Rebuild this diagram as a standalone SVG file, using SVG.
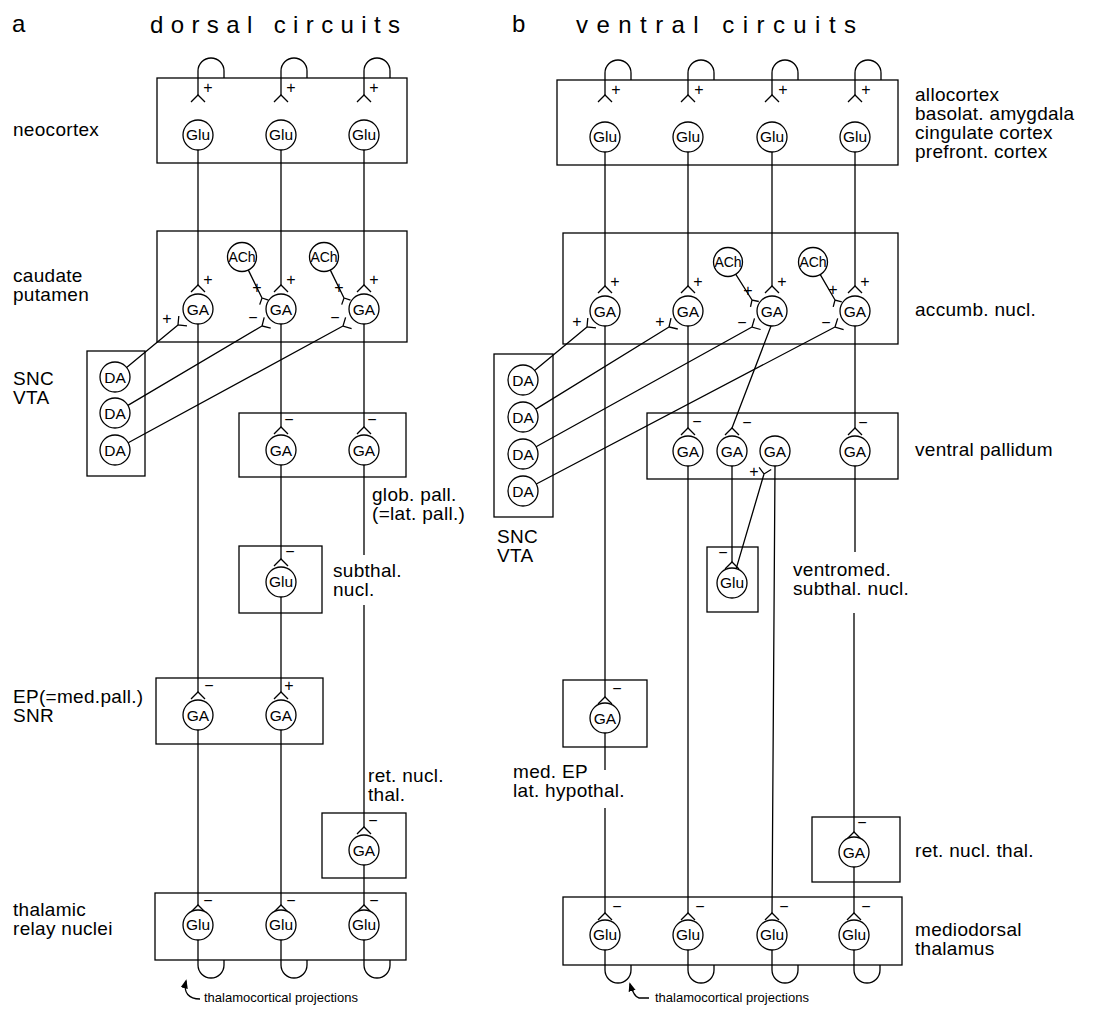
<svg xmlns="http://www.w3.org/2000/svg" width="1101" height="1014" viewBox="0 0 1101 1014">
<defs>
<style>
.box{fill:none;stroke:#000;stroke-width:1.3}
.ln{fill:none;stroke:#000;stroke-width:1.3}
.cell{fill:#fff;stroke:#000;stroke-width:1.3}
text{font-family:"Liberation Sans",Arial,Helvetica,sans-serif;fill:#000}
.ct{font-size:15.5px;text-anchor:middle}
.ach{font-size:14px;text-anchor:middle}
.lb{font-size:19px;letter-spacing:0.3px}
.sg{font-size:16px;text-anchor:middle}
.ttl{font-size:24px}
.sm{font-size:13px}
</style>
<path id="rv" d="M-7,7 L0,0 L7,7" fill="none" stroke="#000" stroke-width="1.3"/>
<marker id="ah" viewBox="0 0 10 10" refX="8" refY="5" markerWidth="7" markerHeight="7" orient="auto"><path d="M0,1 L10,5 L0,9 Z" fill="#000"/></marker>
</defs>
<rect width="1101" height="1014" fill="#fff"/>

<text class="ttl" x="12" y="32">a</text>
<text class="ttl" x="150" y="33" textLength="250" lengthAdjust="spacing">dorsal circuits</text>
<text class="ttl" x="512" y="32">b</text>
<text class="ttl" x="576" y="33" textLength="280" lengthAdjust="spacing">ventral circuits</text>

<g id="connectors">
<path class="ln" d="M198,95 V71 A13,13 0 0 1 224,71 V78"/>
<path class="ln" d="M281,95 V71 A13,13 0 0 1 307,71 V78"/>
<path class="ln" d="M364,95 V71 A13,13 0 0 1 390,71 V78"/>
<use href="#rv" x="198" y="95"/><use href="#rv" x="281" y="95"/><use href="#rv" x="364" y="95"/>
<text class="sg" x="208" y="93">+</text><text class="sg" x="291" y="93">+</text><text class="sg" x="374" y="93">+</text>
<path class="ln" d="M198,150 V285 M281,150 V285 M364,150 V285"/>
<use href="#rv" x="198" y="285"/><use href="#rv" x="281" y="285"/><use href="#rv" x="364" y="285"/>
<text class="sg" x="208" y="285">+</text><text class="sg" x="291" y="285">+</text><text class="sg" x="374" y="285">+</text>
<path class="ln" d="M248.1,269.6 L262,298 M268.5,300.2 L262,298 L259.7,304.6"/>
<path class="ln" d="M330.1,269.6 L344,298 M350.5,300.2 L344,298 L341.7,304.6"/>
<text class="sg" x="257" y="293">+</text><text class="sg" x="339" y="293">+</text>
<path class="ln" d="M126.6,367.5 L178,325 M178.8,316 L178,325 L187,325.9"/>
<path class="ln" d="M127.9,405.4 L262,326 M264.2,317.3 L262,326 L270.7,328.2"/>
<path class="ln" d="M128.2,442.8 L343,326 M345.6,317.4 L343,326 L351.6,328.6"/>
<text class="sg" x="167" y="324">+</text><text class="sg" x="253" y="323">−</text><text class="sg" x="335" y="323">−</text>
<path class="ln" d="M198,324 V692 M281,324 V427 M364,324 V427"/>
<use href="#rv" x="281" y="427"/><use href="#rv" x="364" y="427"/>
<text class="sg" x="289" y="425">−</text><text class="sg" x="372" y="425">−</text>
<path class="ln" d="M281,465 V559 M364,465 V555 M364,605 V827"/>
<use href="#rv" x="281" y="559"/><use href="#rv" x="364" y="827"/>
<text class="sg" x="290" y="557">−</text><text class="sg" x="373" y="826">−</text>
<path class="ln" d="M281,597 V692"/>
<use href="#rv" x="198" y="692"/><use href="#rv" x="281" y="692"/>
<text class="sg" x="209" y="691">−</text><text class="sg" x="289" y="691">+</text>
<path class="ln" d="M198,730 V905 M281,730 V905 M364,865 V905"/>
<use href="#rv" x="198" y="905"/><use href="#rv" x="281" y="905"/><use href="#rv" x="364" y="905"/>
<text class="sg" x="208" y="906">−</text><text class="sg" x="291" y="906">−</text><text class="sg" x="374" y="906">−</text>
<path class="ln" d="M198,940 V965 A13,13 0 0 0 224,965 V960"/>
<path class="ln" d="M281,940 V965 A13,13 0 0 0 307,965 V960"/>
<path class="ln" d="M364,940 V965 A13,13 0 0 0 390,965 V960"/>
<path class="ln" d="M200,999 C189,999 183,993 186,981" marker-end="url(#ah)"/>

<path class="ln" d="M605,95 V73 A13,13 0 0 1 631,73 V80"/>
<path class="ln" d="M688,95 V73 A13,13 0 0 1 714,73 V80"/>
<path class="ln" d="M772,95 V73 A13,13 0 0 1 798,73 V80"/>
<path class="ln" d="M855,95 V73 A13,13 0 0 1 881,73 V80"/>
<use href="#rv" x="605" y="95"/><use href="#rv" x="688" y="95"/><use href="#rv" x="772" y="95"/><use href="#rv" x="855" y="95"/>
<text class="sg" x="616" y="95">+</text><text class="sg" x="699" y="95">+</text><text class="sg" x="783" y="95">+</text><text class="sg" x="866" y="95">+</text>
<path class="ln" d="M605,152 V286 M688,152 V286 M772,152 V286 M855,152 V286"/>
<use href="#rv" x="605" y="286"/><use href="#rv" x="688" y="286"/><use href="#rv" x="772" y="286"/><use href="#rv" x="855" y="286"/>
<text class="sg" x="615" y="287">+</text><text class="sg" x="698" y="287">+</text><text class="sg" x="782" y="287">+</text><text class="sg" x="865" y="287">+</text>
<path class="ln" d="M735.5,273.8 L752,300 M758.8,301.5 L752,300 L750.5,306.8"/>
<path class="ln" d="M820,274.1 L835,300 M841.8,301.8 L835,300 L833.2,306.8"/>
<text class="sg" x="748" y="296">+</text><text class="sg" x="833" y="295">+</text>
<path class="ln" d="M534.6,370.4 L587,327 M587.8,318 L587,327 L596,327.8"/>
<path class="ln" d="M535.8,409.1 L669,327 M671,318.2 L669,327 L677.8,329"/>
<path class="ln" d="M536.1,446.7 L752,327 M754.5,318.4 L752,327 L760.6,329.5"/>
<path class="ln" d="M536.3,484 L835,327 M837.7,318.4 L835,327 L843.6,329.7"/>
<text class="sg" x="577" y="327">+</text><text class="sg" x="660" y="327">+</text><text class="sg" x="742" y="328">−</text><text class="sg" x="826" y="328">−</text>
<path class="ln" d="M605,326 V697 M688,326 V428 M771,326 L732,428 M855,326 V428"/>
<use href="#rv" x="688" y="428"/><use href="#rv" x="732" y="428"/><use href="#rv" x="855" y="428"/><use href="#rv" x="605" y="697"/>
<text class="sg" x="697" y="427">−</text><text class="sg" x="747" y="428">−</text><text class="sg" x="863" y="428">−</text><text class="sg" x="617" y="694">−</text>
<path class="ln" d="M732,466 V562"/>
<use href="#rv" x="732" y="562"/>
<text class="sg" x="723" y="558">−</text>
<path class="ln" d="M736.2,568.6 L764,474 M759.1,467.3 L764,474 L771.2,469.5"/>
<text class="sg" x="754" y="477">+</text>
<path class="ln" d="M688,466 V913 M775,466 L772,913 M855,466 V552 M854,613 V832"/>
<use href="#rv" x="854" y="832"/>
<text class="sg" x="862" y="828">−</text>
<path class="ln" d="M605,733 V770 M605,808 V913 M854,867 V913"/>
<use href="#rv" x="605" y="913"/><use href="#rv" x="688" y="913"/><use href="#rv" x="772" y="913"/><use href="#rv" x="854" y="913"/>
<text class="sg" x="617" y="912">−</text><text class="sg" x="700" y="912">−</text><text class="sg" x="784" y="912">−</text><text class="sg" x="866" y="912">−</text>
<path class="ln" d="M605,950 V970 A13,13 0 0 0 631,970 V965"/>
<path class="ln" d="M688,950 V970 A13,13 0 0 0 714,970 V965"/>
<path class="ln" d="M772,950 V970 A13,13 0 0 0 798,970 V965"/>
<path class="ln" d="M854,950 V970 A13,13 0 0 0 880,970 V965"/>
<path class="ln" d="M649,998 L639,998 Q634,997 630,984" marker-end="url(#ah)"/>
</g>

<g id="neocortex">
<rect class="box" x="157" y="78" width="250" height="85"/>
<circle class="cell" cx="198" cy="135" r="15"/><text class="ct" x="198" y="140">Glu</text>
<circle class="cell" cx="281" cy="135" r="15"/><text class="ct" x="281" y="140">Glu</text>
<circle class="cell" cx="364" cy="135" r="15"/><text class="ct" x="364" y="140">Glu</text>
<text class="lb" x="13" y="136">neocortex</text>
</g>
<g id="caudate-putamen">
<rect class="box" x="157" y="231" width="250" height="111"/>
<circle class="cell" cx="242" cy="257" r="14.5"/><text class="ach" x="242" y="262">ACh</text>
<circle class="cell" cx="324" cy="257" r="14.5"/><text class="ach" x="324" y="262">ACh</text>
<circle class="cell" cx="198" cy="309" r="15"/><text class="ct" x="198" y="314.5">GA</text>
<circle class="cell" cx="281" cy="309" r="15"/><text class="ct" x="281" y="314.5">GA</text>
<circle class="cell" cx="364" cy="309" r="15"/><text class="ct" x="364" y="314.5">GA</text>
<text class="lb" x="13" y="282">caudate</text>
<text class="lb" x="13" y="301">putamen</text>
</g>
<g id="snc-vta-dorsal">
<rect class="box" x="87" y="351" width="58" height="125"/>
<circle class="cell" cx="115" cy="377" r="15"/><text class="ct" x="115" y="382.5">DA</text>
<circle class="cell" cx="115" cy="413" r="15"/><text class="ct" x="115" y="418.5">DA</text>
<circle class="cell" cx="115" cy="450" r="15"/><text class="ct" x="115" y="455.5">DA</text>
<text class="lb" x="13" y="385">SNC</text>
<text class="lb" x="13" y="404">VTA</text>
</g>
<g id="glob-pall">
<rect class="box" x="239" y="413" width="167" height="64"/>
<circle class="cell" cx="281" cy="450" r="15"/><text class="ct" x="281" y="455.5">GA</text>
<circle class="cell" cx="364" cy="450" r="15"/><text class="ct" x="364" y="455.5">GA</text>
<text class="lb" x="372" y="501">glob. pall.</text>
<text class="lb" x="372" y="520">(=lat. pall.)</text>
</g>
<g id="subthal-nucl">
<rect class="box" x="239" y="546" width="83" height="67"/>
<circle class="cell" cx="281" cy="582" r="15"/><text class="ct" x="281" y="587">Glu</text>
<text class="lb" x="333" y="577">subthal.</text>
<text class="lb" x="333" y="596">nucl.</text>
</g>
<g id="ep-snr">
<rect class="box" x="156" y="678" width="167" height="66"/>
<circle class="cell" cx="198" cy="715" r="15"/><text class="ct" x="198" y="720.5">GA</text>
<circle class="cell" cx="281" cy="715" r="15"/><text class="ct" x="281" y="720.5">GA</text>
<text class="lb" x="13" y="703">EP(=med.pall.)</text>
<text class="lb" x="13" y="722">SNR</text>
</g>
<g id="ret-nucl-dorsal">
<rect class="box" x="322" y="813" width="84" height="65"/>
<circle class="cell" cx="364" cy="850" r="15"/><text class="ct" x="364" y="855.5">GA</text>
<text class="lb" x="368" y="782">ret. nucl.</text>
<text class="lb" x="368" y="801">thal.</text>
</g>
<g id="thalamic-relay">
<rect class="box" x="155" y="893" width="251" height="67"/>
<circle class="cell" cx="198" cy="925" r="15"/><text class="ct" x="198" y="930">Glu</text>
<circle class="cell" cx="281" cy="925" r="15"/><text class="ct" x="281" y="930">Glu</text>
<circle class="cell" cx="364" cy="925" r="15"/><text class="ct" x="364" y="930">Glu</text>
<text class="lb" x="13" y="916">thalamic</text>
<text class="lb" x="13" y="935">relay nuclei</text>
<text class="sm" x="204" y="1002">thalamocortical projections</text>
</g>

<g id="allocortex">
<rect class="box" x="557" y="80" width="341" height="85"/>
<circle class="cell" cx="605" cy="137" r="15"/><text class="ct" x="605" y="142">Glu</text>
<circle class="cell" cx="688" cy="137" r="15"/><text class="ct" x="688" y="142">Glu</text>
<circle class="cell" cx="772" cy="137" r="15"/><text class="ct" x="772" y="142">Glu</text>
<circle class="cell" cx="855" cy="137" r="15"/><text class="ct" x="855" y="142">Glu</text>
<text class="lb" x="915" y="101">allocortex</text>
<text class="lb" x="915" y="120">basolat. amygdala</text>
<text class="lb" x="915" y="139">cingulate cortex</text>
<text class="lb" x="915" y="158">prefront. cortex</text>
</g>
<g id="accumbens">
<rect class="box" x="563" y="233" width="335" height="111"/>
<circle class="cell" cx="728" cy="262" r="14.5"/><text class="ach" x="728" y="267">ACh</text>
<circle class="cell" cx="813" cy="262" r="14.5"/><text class="ach" x="813" y="267">ACh</text>
<circle class="cell" cx="605" cy="311" r="15"/><text class="ct" x="605" y="316.5">GA</text>
<circle class="cell" cx="688" cy="311" r="15"/><text class="ct" x="688" y="316.5">GA</text>
<circle class="cell" cx="772" cy="311" r="15"/><text class="ct" x="772" y="316.5">GA</text>
<circle class="cell" cx="855" cy="311" r="15"/><text class="ct" x="855" y="316.5">GA</text>
<text class="lb" x="915" y="316">accumb. nucl.</text>
</g>
<g id="snc-vta-ventral">
<rect class="box" x="494" y="354" width="59" height="163"/>
<circle class="cell" cx="523" cy="380" r="15"/><text class="ct" x="523" y="385.5">DA</text>
<circle class="cell" cx="523" cy="417" r="15"/><text class="ct" x="523" y="422.5">DA</text>
<circle class="cell" cx="523" cy="454" r="15"/><text class="ct" x="523" y="459.5">DA</text>
<circle class="cell" cx="523" cy="491" r="15"/><text class="ct" x="523" y="496.5">DA</text>
<text class="lb" x="497" y="543">SNC</text>
<text class="lb" x="497" y="562">VTA</text>
</g>
<g id="ventral-pallidum">
<rect class="box" x="647" y="413" width="251" height="66"/>
<circle class="cell" cx="688" cy="451" r="15"/><text class="ct" x="688" y="456.5">GA</text>
<circle class="cell" cx="732" cy="451" r="15"/><text class="ct" x="732" y="456.5">GA</text>
<circle class="cell" cx="775" cy="451" r="15"/><text class="ct" x="775" y="456.5">GA</text>
<circle class="cell" cx="855" cy="451" r="15"/><text class="ct" x="855" y="456.5">GA</text>
<text class="lb" x="915" y="456">ventral pallidum</text>
</g>
<g id="ventromed-subthal">
<rect class="box" x="707" y="547" width="51" height="65"/>
<circle class="cell" cx="732" cy="583" r="15"/><text class="ct" x="732" y="588">Glu</text>
<text class="lb" x="793" y="576">ventromed.</text>
<text class="lb" x="793" y="595">subthal. nucl.</text>
</g>
<g id="med-ep">
<rect class="box" x="563" y="680" width="84" height="67"/>
<circle class="cell" cx="605" cy="718" r="15"/><text class="ct" x="605" y="723.5">GA</text>
<text class="lb" x="513" y="778">med. EP</text>
<text class="lb" x="513" y="797">lat. hypothal.</text>
</g>
<g id="ret-nucl-ventral">
<rect class="box" x="812" y="817" width="88" height="65"/>
<circle class="cell" cx="854" cy="852" r="15"/><text class="ct" x="854" y="857.5">GA</text>
<text class="lb" x="915" y="857">ret. nucl. thal.</text>
</g>
<g id="mediodorsal">
<rect class="box" x="563" y="897" width="339" height="68"/>
<circle class="cell" cx="605" cy="935" r="15"/><text class="ct" x="605" y="940">Glu</text>
<circle class="cell" cx="688" cy="935" r="15"/><text class="ct" x="688" y="940">Glu</text>
<circle class="cell" cx="772" cy="935" r="15"/><text class="ct" x="772" y="940">Glu</text>
<circle class="cell" cx="854" cy="935" r="15"/><text class="ct" x="854" y="940">Glu</text>
<text class="lb" x="915" y="936">mediodorsal</text>
<text class="lb" x="915" y="955">thalamus</text>
<text class="sm" x="655" y="1002">thalamocortical projections</text>
</g>
</svg>
